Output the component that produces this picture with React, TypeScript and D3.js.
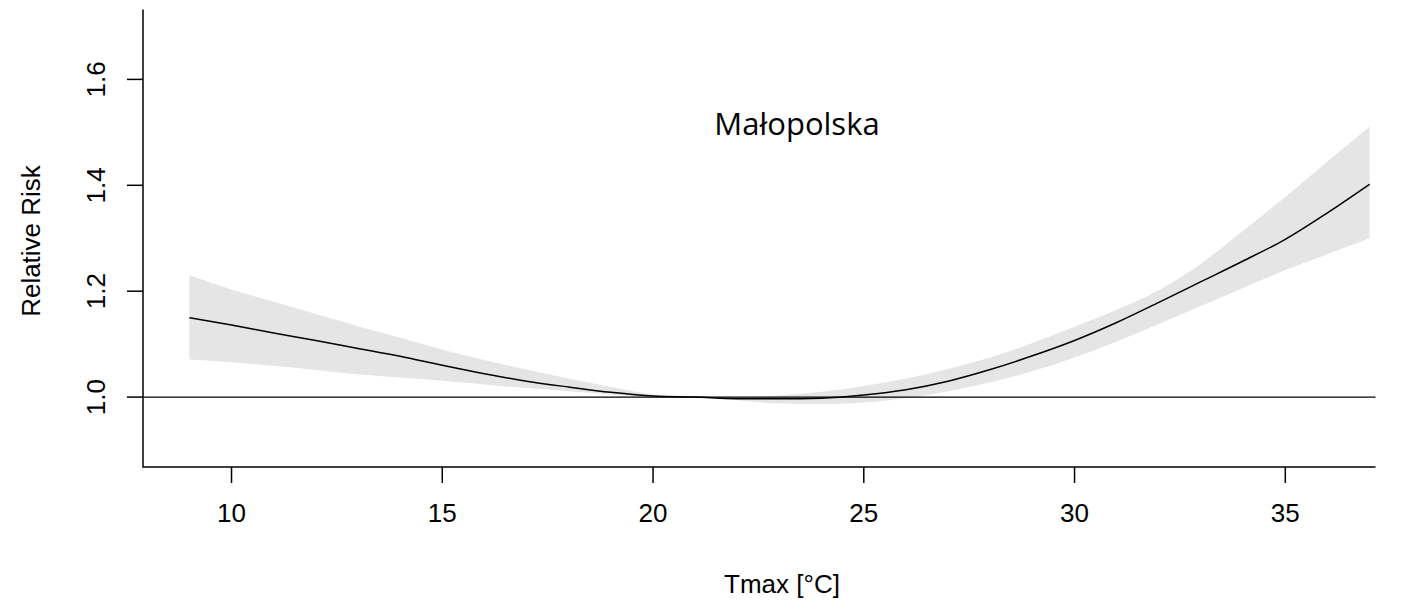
import React from 'react';
import {scaleLinear, area, line, curveMonotoneX} from 'd3';

// temperature grid (°C)
const temps = [9, 10, 11, 12, 13, 14, 15, 16, 17, 18, 19, 20, 21, 22, 23, 24, 25, 26, 27, 28, 29, 30, 31, 32, 33, 34, 35, 36, 37];
// relative risk, fitted
const rrFit = [1.150, 1.136, 1.121, 1.107, 1.092, 1.077, 1.060, 1.044, 1.030, 1.019, 1.009, 1.002, 1.000, 0.997, 0.997, 0.998, 1.004, 1.014, 1.030, 1.052, 1.078, 1.107, 1.141, 1.179, 1.218, 1.257, 1.298, 1.348, 1.402];
// 95% CI
const rrLow = [1.071, 1.066, 1.059, 1.051, 1.043, 1.037, 1.031, 1.024, 1.017, 1.011, 1.005, 1.000, 1.000, 0.994, 0.988, 0.987, 0.990, 0.998, 1.011, 1.028, 1.049, 1.075, 1.105, 1.138, 1.172, 1.206, 1.240, 1.270, 1.300];
const rrHigh = [1.230, 1.203, 1.180, 1.157, 1.134, 1.112, 1.090, 1.070, 1.052, 1.035, 1.019, 1.005, 1.000, 0.999, 1.003, 1.010, 1.021, 1.035, 1.053, 1.075, 1.102, 1.133, 1.165, 1.202, 1.252, 1.314, 1.378, 1.445, 1.511];

const xTicks = [10, 15, 20, 25, 30, 35];
const yTicks = [1.0, 1.2, 1.4, 1.6];

const App = () => {
    const width = 1404, height = 613;
    const left = 143, right = 1375.5, top = 9.5, bottom = 467;

    const x = scaleLinear().domain([7.9, 37.14]).range([left, right]);
    const y = scaleLinear().domain([0.868, 1.732]).range([bottom, top]);

    const band = area<number>()
        .x((d, i) => x(temps[i]))
        .y0((d, i) => y(rrLow[i]))
        .y1((d, i) => y(rrHigh[i]))
        .curve(curveMonotoneX);

    const fitLine = line<number>()
        .x((d, i) => x(temps[i]))
        .y(d => y(d))
        .curve(curveMonotoneX);

    const font = 'Arial, "Liberation Sans", sans-serif';

    return (
        <svg width={width} height={height} style={{position: 'absolute', left: 0, top: 0, background: '#fff'}}>
            <path d={band(rrFit) || ''} fill="#e5e5e5" stroke="none"/>
            <path d={fitLine(rrFit) || ''} fill="none" stroke="#000" strokeWidth={1.5}/>
            <line x1={left} x2={right} y1={y(1)} y2={y(1)} stroke="#000" strokeWidth={1.3}/>

            {/* L-shaped frame */}
            <path d={`M${left},${top}V${bottom}H${right}`} fill="none" stroke="#000" strokeWidth={1.5}/>

            {xTicks.map(t => (
                <g key={t}>
                    <line x1={x(t)} x2={x(t)} y1={bottom} y2={bottom + 16} stroke="#000" strokeWidth={1.5}/>
                    <text x={x(t)} y={522} textAnchor="middle" fontFamily={font} fontSize={26}>{t}</text>
                </g>
            ))}
            {yTicks.map(t => (
                <g key={t}>
                    <line x1={left - 16} x2={left} y1={y(t)} y2={y(t)} stroke="#000" strokeWidth={1.5}/>
                    <text transform={`translate(105,${y(t)}) rotate(-90)`} textAnchor="middle" fontFamily={font} fontSize={26}>{t.toFixed(1)}</text>
                </g>
            ))}

            <text x={782} y={593} textAnchor="middle" fontFamily={font} fontSize={26}>Tmax [°C]</text>
            <text transform="translate(40,241) rotate(-90)" textAnchor="middle" fontFamily={font} fontSize={26}>Relative Risk</text>
            <text x={797} y={135} textAnchor="middle" fontFamily='"Open Sans", "Noto Sans", sans-serif' fontSize={31}>Małopolska</text>
        </svg>
    );
};

export default App;
